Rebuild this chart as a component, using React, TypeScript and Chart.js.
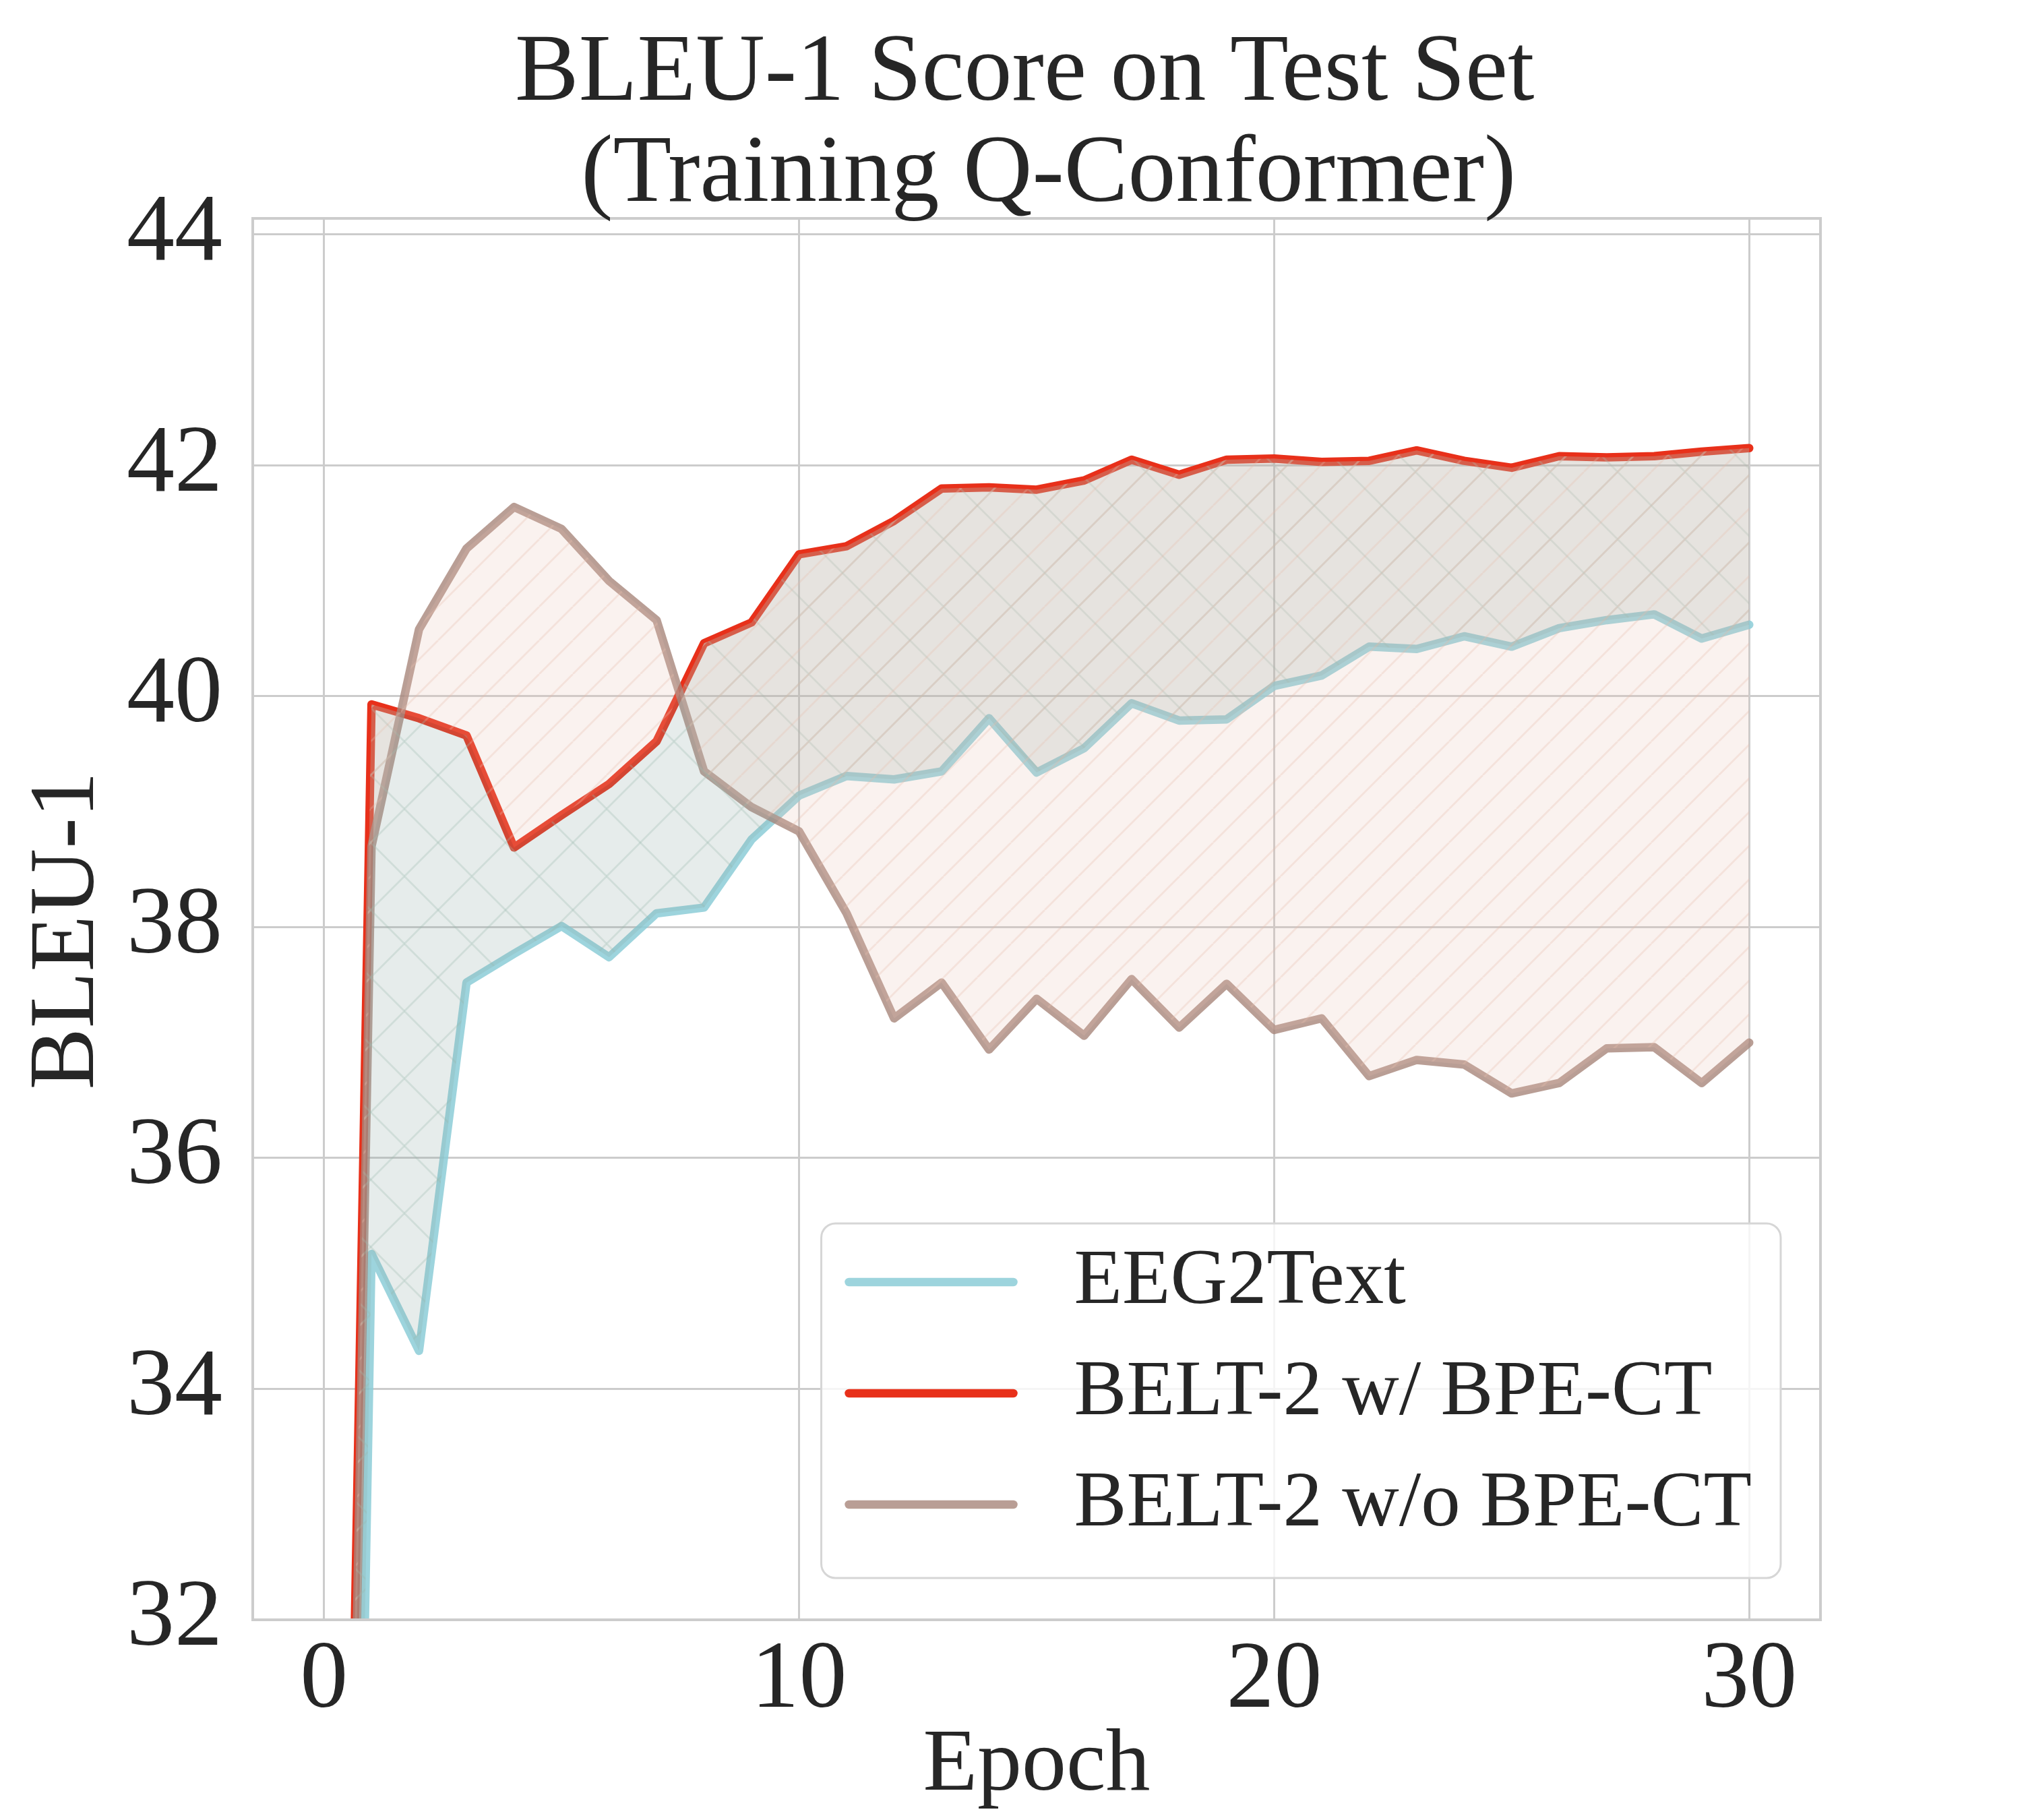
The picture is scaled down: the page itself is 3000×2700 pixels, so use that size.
import { useEffect, useRef } from 'react'
import { Chart, registerables } from 'chart.js'

Chart.register(...registerables)

// epochs on the x axis
const epochs = [0, 1, 2, 3, 4, 5, 6, 7, 8, 9, 10, 11, 12, 13, 14, 15, 16, 17, 18, 19, 20, 21, 22, 23, 24, 25, 26, 27, 28, 29, 30]

// BLEU-1 per epoch
const eeg2text = [12.4, 35.17, 34.33, 37.52, 37.77, 38.01, 37.74, 38.12, 38.17, 38.76, 39.14, 39.31, 39.28, 39.35, 39.81, 39.34, 39.55, 39.94, 39.79, 39.8, 40.09, 40.18, 40.43, 40.41, 40.52, 40.43, 40.59, 40.66, 40.71, 40.5, 40.62]
const withBpe = [17.2, 39.93, 39.81, 39.66, 38.69, 38.97, 39.24, 39.61, 40.46, 40.64, 41.23, 41.3, 41.52, 41.8, 41.81, 41.79, 41.87, 42.05, 41.92, 42.05, 42.06, 42.03, 42.04, 42.13, 42.04, 41.98, 42.08, 42.07, 42.08, 42.12, 42.15]
const withoutBpe = [16.8, 38.7, 40.58, 41.28, 41.64, 41.45, 41.0, 40.66, 39.35, 39.04, 38.83, 38.12, 37.21, 37.52, 36.94, 37.38, 37.06, 37.55, 37.13, 37.51, 37.11, 37.21, 36.71, 36.85, 36.81, 36.56, 36.65, 36.95, 36.96, 36.65, 37.0]

const seriesLabels = ['EEG2Text', 'BELT-2 w/ BPE-CT', 'BELT-2 w/o BPE-CT']
const seriesColors = ['rgba(140, 205, 215, 0.85)', '#e8301a', 'rgba(168, 134, 122, 0.8)']

const xTicks = [0, 10, 20, 30]
const yTicks = [32, 34, 36, 38, 40, 42, 44]

const titleLines = ['BLEU-1 Score on Test Set ', ' (Training Q-Conformer)']

const FONT = '"Liberation Serif", "Times New Roman", serif'
const TEXT = '#262626'
const GRID = '#cccccc'
const LINE_W = 12.5

const toPoints = (values: number[]) => epochs.map((e, i) => ({ x: e, y: values[i] }))

// diagonal hatch tile, '/' and/or '\' lines
function makeHatch(size: number, bg: string, line: string, dirs: string[]) {
  const c = document.createElement('canvas')
  c.width = size
  c.height = size
  const g = c.getContext('2d')!
  g.fillStyle = bg
  g.fillRect(0, 0, size, size)
  g.strokeStyle = line
  g.lineWidth = 2.8
  for (let k = -1; k <= 1; k++) {
    if (dirs.includes('/')) {
      g.beginPath()
      g.moveTo(k * size, size)
      g.lineTo(k * size + size, 0)
      g.stroke()
    }
    if (dirs.includes('\\')) {
      g.beginPath()
      g.moveTo(k * size, 0)
      g.lineTo(k * size + size, size)
      g.stroke()
    }
  }
  return g.createPattern(c, 'repeat')!
}

const decorPlugin = {
  id: 'decor',
  afterDraw(chart: any) {
    const { ctx, chartArea: a } = chart
    ctx.save()

    // axes frame
    ctx.strokeStyle = GRID
    ctx.lineWidth = 4
    ctx.strokeRect(a.left, a.top, a.right - a.left, a.bottom - a.top)

    // title
    ctx.fillStyle = TEXT
    ctx.font = `142px ${FONT}`
    ctx.textAlign = 'center'
    ctx.textBaseline = 'alphabetic'
    const cx = (a.left + a.right) / 2
    titleLines.forEach((t, i) => ctx.fillText(t, cx, a.top - 176 + i * 150))

    // legend, lower right
    ctx.font = `117px ${FONT}`
    const maxW = Math.max(...seriesLabels.map((s) => ctx.measureText(s).width))
    const rowGap = 165
    const boxW = 375 + maxW + 43
    const boxH = 87 + rowGap * (seriesLabels.length - 1) + 109
    const right = a.right - 59
    const bottom = a.bottom - 62
    const left = right - boxW
    const top = bottom - boxH
    ctx.beginPath()
    ctx.roundRect(left, top, boxW, boxH, 21)
    ctx.fillStyle = 'rgba(255, 255, 255, 0.8)'
    ctx.fill()
    ctx.strokeStyle = '#d6d6d6'
    ctx.lineWidth = 3
    ctx.stroke()

    ctx.textAlign = 'left'
    ctx.textBaseline = 'middle'
    ctx.lineCap = 'round'
    seriesLabels.forEach((label, i) => {
      const y = top + 87 + i * rowGap
      ctx.strokeStyle = seriesColors[i]
      ctx.lineWidth = LINE_W
      ctx.beginPath()
      ctx.moveTo(left + 41, y)
      ctx.lineTo(left + 285, y)
      ctx.stroke()
      ctx.fillStyle = TEXT
      ctx.fillText(label, left + 375, y)
    })

    ctx.restore()
  },
}

export default function App() {
  const canvasRef = useRef<HTMLCanvasElement>(null)
  const chartRef = useRef<Chart | null>(null)

  useEffect(() => {
    document.body.style.margin = '0'
    if (!canvasRef.current) return
    if (chartRef.current) chartRef.current.destroy()

    const tealHatch = makeHatch(100, 'rgba(130, 160, 155, 0.2)', 'rgba(157, 186, 175, 0.3)', ['/', '\\'])
    const peachHatch = makeHatch(50, 'rgba(230, 190, 175, 0.2)', 'rgba(230, 189, 172, 0.3)', ['/'])

    const line = (i: number, values: number[], order: number) => ({
      label: seriesLabels[i],
      data: toPoints(values),
      borderColor: seriesColors[i],
      backgroundColor: seriesColors[i],
      borderWidth: LINE_W,
      borderCapStyle: 'round',
      borderJoinStyle: 'round',
      pointRadius: 0,
      tension: 0,
      fill: false,
      clip: 0,
      order,
    })

    // fill bands drawn after the lines, like fill_between on top of plot
    const band = (values: number[], pattern: CanvasPattern, order: number) => ({
      label: '',
      data: toPoints(values),
      borderColor: 'rgba(0,0,0,0)',
      backgroundColor: pattern,
      borderWidth: 0,
      pointRadius: 0,
      tension: 0,
      fill: 1,
      clip: 0,
      order,
    })

    chartRef.current = new Chart(canvasRef.current, {
      type: 'line',
      data: {
        datasets: [
          line(0, eeg2text, 5),
          line(1, withBpe, 4),
          line(2, withoutBpe, 3),
          band(eeg2text, tealHatch, 2) as any,
          band(withoutBpe, peachHatch, 1) as any,
        ] as any,
      },
      options: {
        animation: false,
        responsive: false,
        devicePixelRatio: 1,
        events: [],
        layout: { padding: { top: 324, right: 299, left: 0, bottom: 0 } },
        plugins: {
          legend: { display: false },
          tooltip: { enabled: false },
          title: { display: false },
        },
        scales: {
          x: {
            type: 'linear',
            min: -1.5,
            max: 31.5,
            afterBuildTicks: (scale: any) => {
              scale.ticks = xTicks.map((v) => ({ value: v }))
            },
            afterFit: (scale: any) => {
              scale.height = 297
            },
            grid: { color: GRID, lineWidth: 3, drawTicks: false },
            border: { display: false },
            ticks: {
              color: TEXT,
              font: { family: FONT, size: 142 },
              padding: 7,
              maxRotation: 0,
              autoSkip: false,
            },
            title: {
              display: true,
              text: 'Epoch',
              color: TEXT,
              font: { family: FONT, size: 132 },
              padding: { top: 0, bottom: 0 },
            },
          },
          y: {
            type: 'linear',
            min: 32,
            max: 44.14,
            afterBuildTicks: (scale: any) => {
              scale.ticks = yTicks.map((v) => ({ value: v }))
            },
            afterFit: (scale: any) => {
              scale.width = 375
            },
            grid: { color: GRID, lineWidth: 3, drawTicks: false },
            border: { display: false },
            ticks: {
              color: TEXT,
              font: { family: FONT, size: 142 },
              padding: 45,
              autoSkip: false,
            },
            title: {
              display: true,
              text: 'BLEU-1 ',
              color: TEXT,
              font: { family: FONT, size: 137 },
              padding: { top: 20, bottom: 0 },
            },
          },
        },
      } as any,
      plugins: [decorPlugin],
    })

    return () => {
      if (chartRef.current) {
        chartRef.current.destroy()
        chartRef.current = null
      }
    }
  }, [])

  return (
    <div style={{ width: 3000, height: 2700, background: '#fff' }}>
      <canvas ref={canvasRef} width={3000} height={2700} style={{ width: 3000, height: 2700, display: 'block' }} />
    </div>
  )
}
